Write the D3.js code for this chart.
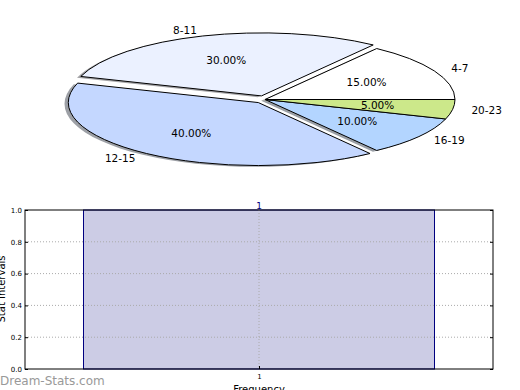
<!DOCTYPE html>
<html>
<head>
<meta charset="utf-8">
<script src="https://cdn.jsdelivr.net/npm/d3@7"></script>
<style>
  body { margin: 0; background: #fff; }
  svg { display: block; font-family: "DejaVu Sans", sans-serif; }
</style>
</head>
<body>
<div id="chart"></div>
<script>
// pie data
const ageGroups = ["4-7", "8-11", "12-15", "16-19", "20-23"];
const shares = [15, 30, 40, 10, 5];
const explode = [0, 0.06, 0.06, 0, 0];
const sliceColors = ["#ffffff", "#ebf1ff", "#c4d7ff", "#b3d5ff", "#cce88a"];

// bar data
const barPositions = [1];
const barValues = [1];
const yTicks = [0, 0.2, 0.4, 0.6, 0.8, 1.0];

const width = 520, height = 390;
const svg = d3.select("#chart").append("svg")
    .attr("width", width)
    .attr("height", height);

// ---- pie (squashed into an ellipse like the original) ----
const cx = 265, cy = 99.5, rx = 190, ry = 63;

const pie = d3.pie().sort(null)
    .startAngle(Math.PI / 2)
    .endAngle(Math.PI / 2 - 2 * Math.PI);
const arcs = pie(shares);
const arc = d3.arc().innerRadius(0).outerRadius(1);

const pieG = svg.append("g")
    .attr("transform", `translate(${cx},${cy}) scale(${rx},${ry})`);

function offset(d, i) {
    const a = (d.startAngle + d.endAngle) / 2;
    return [explode[i] * Math.sin(a), -explode[i] * Math.cos(a)];
}

// shadows first, all below the wedges
pieG.selectAll("path.shadow")
    .data(arcs)
    .enter().append("path")
    .attr("class", "shadow")
    .attr("d", arc)
    .attr("transform", (d, i) => {
        const o = offset(d, i);
        return `translate(${o[0] - 0.02},${o[1] + 0.02})`;
    })
    .attr("fill", (d, i) => {
        const c = d3.rgb(sliceColors[i]);
        return d3.rgb(c.r * 0.3, c.g * 0.3, c.b * 0.3);
    })
    .attr("fill-opacity", 0.5);

pieG.selectAll("path.wedge")
    .data(arcs)
    .enter().append("path")
    .attr("class", "wedge")
    .attr("d", arc)
    .attr("transform", (d, i) => {
        const o = offset(d, i);
        return `translate(${o[0]},${o[1]})`;
    })
    .attr("fill", (d, i) => sliceColors[i])
    .attr("stroke", "#000")
    .attr("stroke-width", 1)
    .attr("vector-effect", "non-scaling-stroke");

function pos(d, i, r) {
    const a = (d.startAngle + d.endAngle) / 2;
    const k = r + explode[i];
    return [cx + rx * k * Math.sin(a), cy - ry * k * Math.cos(a)];
}

svg.selectAll("text.plabel")
    .data(arcs)
    .enter().append("text")
    .attr("class", "plabel")
    .attr("x", (d, i) => pos(d, i, 1.1)[0])
    .attr("y", (d, i) => pos(d, i, 1.1)[1])
    .attr("dy", "0.35em")
    .attr("text-anchor", (d, i) => pos(d, i, 1.1)[0] > cx ? "start" : "end")
    .attr("font-size", 10.5)
    .text((d, i) => ageGroups[i]);

const total = d3.sum(shares);
svg.selectAll("text.pct")
    .data(arcs)
    .enter().append("text")
    .attr("class", "pct")
    .attr("x", (d, i) => pos(d, i, 0.6)[0])
    .attr("y", (d, i) => pos(d, i, 0.6)[1])
    .attr("dy", "0.35em")
    .attr("text-anchor", "middle")
    .attr("font-size", 10.5)
    .text(d => (d.value / total * 100).toFixed(2) + "%");

// ---- bar chart ----
const plotL = 25, plotR = 493, plotT = 210, plotB = 369;
const x = d3.scaleLinear().domain([0.5, 1.5]).range([plotL, plotR]);
const y = d3.scaleLinear().domain([0, 1]).range([plotB, plotT]);
const barW = 0.75;

svg.selectAll("rect.bar")
    .data(barValues)
    .enter().append("rect")
    .attr("class", "bar")
    .attr("x", (d, i) => x(barPositions[i] - barW / 2))
    .attr("width", x(barW) - x(0))
    .attr("y", d => y(d))
    .attr("height", d => y(0) - y(d))
    .attr("fill", "#cccce5")
    .attr("stroke", "#000080")
    .attr("stroke-width", 1);

// dotted grid on top of the bar
const grid = svg.append("g").attr("stroke", "#aaa").attr("stroke-dasharray", "1,2");
grid.selectAll("line.gy")
    .data(yTicks.slice(1, -1))
    .enter().append("line")
    .attr("x1", plotL).attr("x2", plotR)
    .attr("y1", d => y(d)).attr("y2", d => y(d));
grid.selectAll("line.gx")
    .data(barPositions)
    .enter().append("line")
    .attr("x1", d => x(d)).attr("x2", d => x(d))
    .attr("y1", plotT).attr("y2", plotB);

// frame
svg.append("rect")
    .attr("x", plotL).attr("y", plotT)
    .attr("width", plotR - plotL).attr("height", plotB - plotT)
    .attr("fill", "none").attr("stroke", "#000").attr("stroke-width", 1);

// y axis, ticks pointing inward
const yAxis = svg.append("g")
    .attr("transform", `translate(${plotL},0)`)
    .call(d3.axisLeft(y).tickValues(yTicks).tickFormat(d3.format(".1f")).tickSizeInner(-3).tickSizeOuter(0).tickPadding(3));
yAxis.select(".domain").remove();
yAxis.selectAll("text").attr("font-size", 7).attr("font-family", "DejaVu Sans");

const yAxisR = svg.append("g")
    .attr("transform", `translate(${plotR},0)`)
    .call(d3.axisRight(y).tickValues(yTicks).tickFormat("").tickSizeInner(-3).tickSizeOuter(0));
yAxisR.select(".domain").remove();

const xAxis = svg.append("g")
    .attr("transform", `translate(0,${plotB})`)
    .call(d3.axisBottom(x).tickValues(barPositions).tickFormat(d3.format("d")).tickSizeInner(-3).tickSizeOuter(0).tickPadding(5));
xAxis.select(".domain").remove();
xAxis.selectAll("text").attr("font-size", 7).attr("font-family", "DejaVu Sans");

// value label above the bar
svg.selectAll("text.val")
    .data(barValues)
    .enter().append("text")
    .attr("class", "val")
    .attr("x", (d, i) => x(barPositions[i]))
    .attr("y", d => y(d) - 1)
    .attr("text-anchor", "middle")
    .attr("font-size", 9)
    .attr("fill", "#000080")
    .text(d => d);

// axis titles
svg.append("text")
    .attr("x", x(1)).attr("y", 393)
    .attr("text-anchor", "middle")
    .attr("font-size", 10)
    .text("Frequency");

svg.append("text")
    .attr("transform", "translate(5,289) rotate(-90)")
    .attr("text-anchor", "middle")
    .attr("font-size", 10)
    .text("Stat Intervals");

// watermark
svg.append("text")
    .attr("x", 0).attr("y", 385)
    .attr("font-size", 12)
    .attr("fill", "#999")
    .text("Dream-Stats.com");
</script>
</body>
</html>
